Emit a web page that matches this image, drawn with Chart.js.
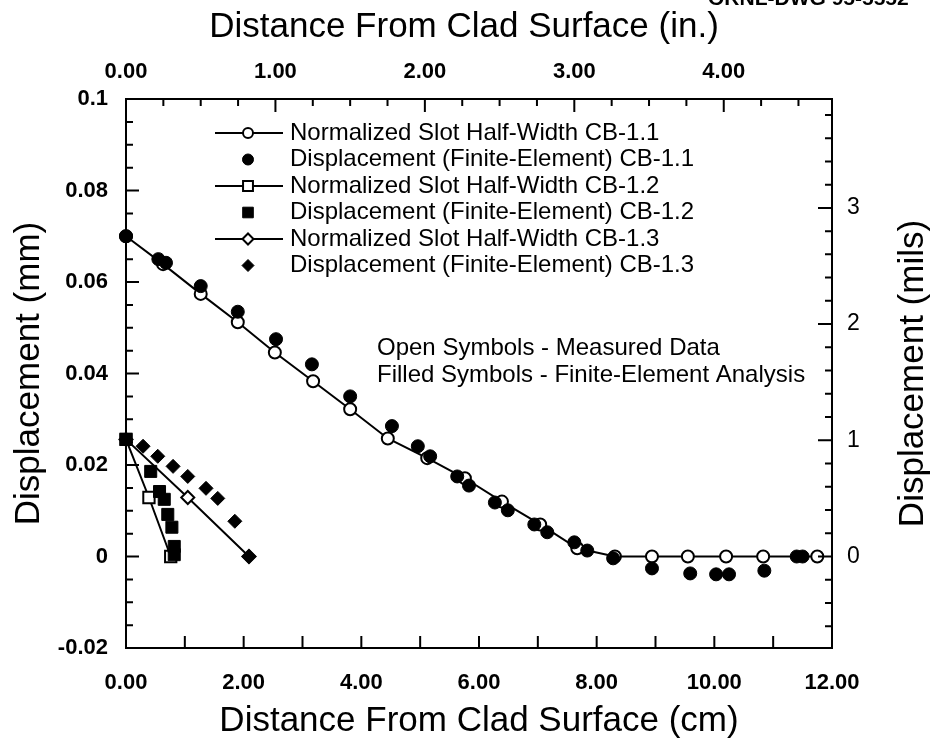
<!DOCTYPE html>
<html>
<head>
<meta charset="utf-8">
<script src="https://cdn.jsdelivr.net/npm/chart.js@4/dist/chart.umd.min.js"></script>
<style>
  html, body { margin: 0; padding: 0; background: #ffffff; }
  #wrap { width: 933px; height: 742px; }
</style>
</head>
<body>
<div id="wrap"><canvas id="c" width="933" height="742"></canvas></div>
<script>
// Distance from clad surface (cm) and displacement (mm)
const cb11MeasX = [0, 0.63, 1.27, 1.90, 2.53, 3.18, 3.81, 4.45, 5.12, 5.76, 6.39, 7.04, 7.67, 8.31, 8.94, 9.55, 10.2, 10.83, 11.75];
const cb11MeasY = [0.0700, 0.0639, 0.0574, 0.0512, 0.0446, 0.0383, 0.0322, 0.0258, 0.0215, 0.0171, 0.0120, 0.0070, 0.0018, 0.0, 0.0, 0.0, 0.0, 0.0, 0.0];

const cb11FeX = [0, 0.55, 0.68, 1.27, 1.90, 2.55, 3.16, 3.81, 4.52, 4.96, 5.17, 5.63, 5.83, 6.27, 6.49, 6.94, 7.16, 7.62, 7.84, 8.28, 8.94, 9.59, 10.03, 10.25, 10.85, 11.40, 11.50];
const cb11FeY = [0.0700, 0.0650, 0.0642, 0.0591, 0.0535, 0.0475, 0.0420, 0.0350, 0.0285, 0.0241, 0.0219, 0.0175, 0.0155, 0.0118, 0.0101, 0.0070, 0.0053, 0.0031, 0.0013, -0.0004, -0.0026, -0.0037, -0.0039, -0.0039, -0.0031, 0.0, 0.0];

const cb12MeasX = [0, 0.39, 0.76];
const cb12MeasY = [0.0256, 0.0129, 0.0];

const cb12FeX = [0, 0.42, 0.57, 0.65, 0.71, 0.78, 0.82, 0.82];
const cb12FeY = [0.0256, 0.0186, 0.0142, 0.0125, 0.0092, 0.0064, 0.0022, 0.0004];

const cb13MeasX = [0, 1.05, 2.09];
const cb13MeasY = [0.0256, 0.0129, 0.0];

const cb13FeX = [0.29, 0.54, 0.80, 1.05, 1.36, 1.56, 1.85, 2.09];
const cb13FeY = [0.0241, 0.0219, 0.0197, 0.0175, 0.0149, 0.0127, 0.0077, 0.0];

const seriesLabels = [
  'Normalized Slot Half-Width CB-1.1',
  'Displacement (Finite-Element) CB-1.1',
  'Normalized Slot Half-Width CB-1.2',
  'Displacement (Finite-Element) CB-1.2',
  'Normalized Slot Half-Width CB-1.3',
  'Displacement (Finite-Element) CB-1.3'
];

const noteLines = ['Open Symbols - Measured Data', 'Filled Symbols - Finite-Element Analysis'];

const CM_PER_IN = 2.54;
const MM_PER_MIL = 0.0254;
const FONT = '"Liberation Sans", Arial, Helvetica, sans-serif';

const pts = (xs, ys) => xs.map((x, i) => ({ x: x, y: ys[i] }));

function measured(label, xs, ys, style, radius, order) {
  return {
    label, data: pts(xs, ys), showLine: true, tension: 0,
    borderColor: '#000', borderWidth: 2,
    pointStyle: style, pointRadius: radius, pointBorderWidth: 2,
    pointBackgroundColor: '#fff', pointBorderColor: '#000',
    clip: false, order: order
  };
}
function computed(label, xs, ys, style, radius) {
  return {
    label, data: pts(xs, ys), showLine: false,
    pointStyle: style, pointRadius: radius, pointBorderWidth: 1,
    pointBackgroundColor: '#000', pointBorderColor: '#000',
    clip: false, order: 0
  };
}

// Tick marks drawn on the inner side of every axis
const insideTicks = {
  id: 'insideTicks',
  afterDraw(chart) {
    const ctx = chart.ctx;
    const a = chart.chartArea;
    const s = chart.scales;
    ctx.save();
    ctx.strokeStyle = '#000';
    ctx.lineWidth = 2;
    ctx.beginPath();
    for (let v = 1; v <= 11; v++) {
      const px = s.x.getPixelForValue(v);
      ctx.moveTo(px, a.bottom); ctx.lineTo(px, a.bottom - 12);
    }
    for (let k = 1; k * 0.25 < s.x2.max; k++) {
      const px = s.x2.getPixelForValue(k * 0.25);
      const len = (k % 4 === 0) ? 13 : 7;
      ctx.moveTo(px, a.top); ctx.lineTo(px, a.top + len);
    }
    for (let k = -3; k <= 19; k++) {
      const py = s.y.getPixelForValue(k * 0.005);
      const len = (k % 4 === 0) ? 13 : 7;
      ctx.moveTo(a.left, py); ctx.lineTo(a.left + len, py);
    }
    for (let k = -3; k * 0.2 < s.y2.max; k++) {
      const py = s.y2.getPixelForValue(k * 0.2);
      const len = (k % 5 === 0) ? 14 : 7;
      ctx.moveTo(a.right, py); ctx.lineTo(a.right - len, py);
    }
    ctx.stroke();
    ctx.restore();
  }
};

// Key, notes, the top title and the right-hand axis title
const annotations = {
  id: 'annotations',
  afterDraw(chart) {
    const ctx = chart.ctx;
    const a = chart.chartArea;
    ctx.save();
    ctx.fillStyle = '#000';
    ctx.strokeStyle = '#000';
    ctx.textBaseline = 'middle';
    ctx.textAlign = 'left';
    ctx.font = '24px ' + FONT;
    const rowY0 = 133, rowStep = 26.5;
    chart.data.datasets.forEach((ds, i) => {
      const y = rowY0 + i * rowStep;
      if (ds.showLine) {
        ctx.lineWidth = 2;
        ctx.beginPath(); ctx.moveTo(215, y); ctx.lineTo(283, y); ctx.stroke();
      }
      ctx.fillStyle = ds.pointBackgroundColor;
      ctx.strokeStyle = ds.pointBorderColor;
      ctx.lineWidth = ds.pointBorderWidth;
      Chart.helpers.drawPoint(ctx, { pointStyle: ds.pointStyle, radius: ds.pointRadius - 1, borderWidth: ds.pointBorderWidth, rotation: 0 }, 248, y);
      ctx.fillStyle = '#000';
      ctx.strokeStyle = '#000';
      ctx.fillText(ds.label, 290, y);
    });
    ctx.fillText(noteLines[0], 377, 348);
    ctx.fillText(noteLines[1], 377, 375);

    ctx.font = '35px ' + FONT;
    ctx.textAlign = 'center';
    ctx.textBaseline = 'alphabetic';
    ctx.fillText('Distance From Clad Surface (in.)', 464, 37);

    ctx.textBaseline = 'middle';
    ctx.translate(913, (a.top + a.bottom) / 2);
    ctx.rotate(-Math.PI / 2);
    ctx.fillText('Displacement (mils)', 0, 0);
    ctx.restore();

    ctx.save();
    ctx.fillStyle = '#000';
    ctx.font = 'bold 21px ' + FONT;
    ctx.textBaseline = 'alphabetic';
    ctx.textAlign = 'left';
    ctx.fillText('ORNL-DWG 95-5552', 708, 5);
    ctx.restore();
  }
};

const tickFont = { family: FONT, size: 22, weight: 'bold' };
const titleFont = { family: FONT, size: 35 };
const noGrid = { display: false, drawTicks: false };
const frame = { display: true, color: '#000', width: 2 };

new Chart(document.getElementById('c'), {
  type: 'scatter',
  data: {
    datasets: [
      measured(seriesLabels[0], cb11MeasX, cb11MeasY, 'circle', 6, 1),
      computed(seriesLabels[1], cb11FeX, cb11FeY, 'circle', 6.5),
      measured(seriesLabels[2], cb12MeasX, cb12MeasY, 'rect', 8, 1),
      computed(seriesLabels[3], cb12FeX, cb12FeY, 'rect', 8.5),
      measured(seriesLabels[4], cb13MeasX, cb13MeasY, 'rectRot', 6.5, 1),
      computed(seriesLabels[5], cb13FeX, cb13FeY, 'rectRot', 7)
    ]
  },
  options: {
    responsive: false,
    devicePixelRatio: 1,
    animation: false,
    layout: { padding: 0 },
    plugins: { legend: { display: false }, tooltip: { enabled: false } },
    scales: {
      x: {
        type: 'linear', position: 'bottom', min: 0, max: 12,
        grid: noGrid, border: frame,
        ticks: { stepSize: 2, autoSkip: false, maxRotation: 0, padding: 22, color: '#000', font: tickFont,
                 callback: v => v.toFixed(2) },
        title: { display: true, text: 'Distance From Clad Surface (cm)', color: '#000', font: titleFont, padding: { top: 0, bottom: 0 } },
        afterFit(scale) { scale.height = 94; }
      },
      x2: {
        type: 'linear', position: 'top', min: 0, max: 12 / CM_PER_IN,
        grid: noGrid, border: frame,
        ticks: { stepSize: 1, includeBounds: false, autoSkip: false, maxRotation: 0, padding: 14, color: '#000', font: tickFont,
                 callback: v => v.toFixed(2) },
        title: { display: false },
        afterFit(scale) { scale.height = 99; }
      },
      y: {
        type: 'linear', position: 'left', min: -0.02, max: 0.1,
        grid: noGrid, border: frame,
        ticks: { stepSize: 0.02, autoSkip: false, padding: 18, color: '#000', font: tickFont,
                 callback: v => String(parseFloat(v.toFixed(2))) },
        title: { display: true, text: 'Displacement (mm)', color: '#000', font: titleFont, padding: { top: 8, bottom: 0 } },
        afterFit(scale) { scale.width = 126; }
      },
      y2: {
        type: 'linear', position: 'right', min: -0.02 / MM_PER_MIL, max: 0.1 / MM_PER_MIL,
        grid: noGrid, border: frame,
        ticks: { stepSize: 1, includeBounds: false, autoSkip: false, padding: 15, color: '#000',
                 font: { family: FONT, size: 23 }, callback: v => String(v) },
        title: { display: false },
        afterFit(scale) { scale.width = 101; }
      }
    }
  },
  plugins: [insideTicks, annotations]
});
</script>
</body>
</html>
